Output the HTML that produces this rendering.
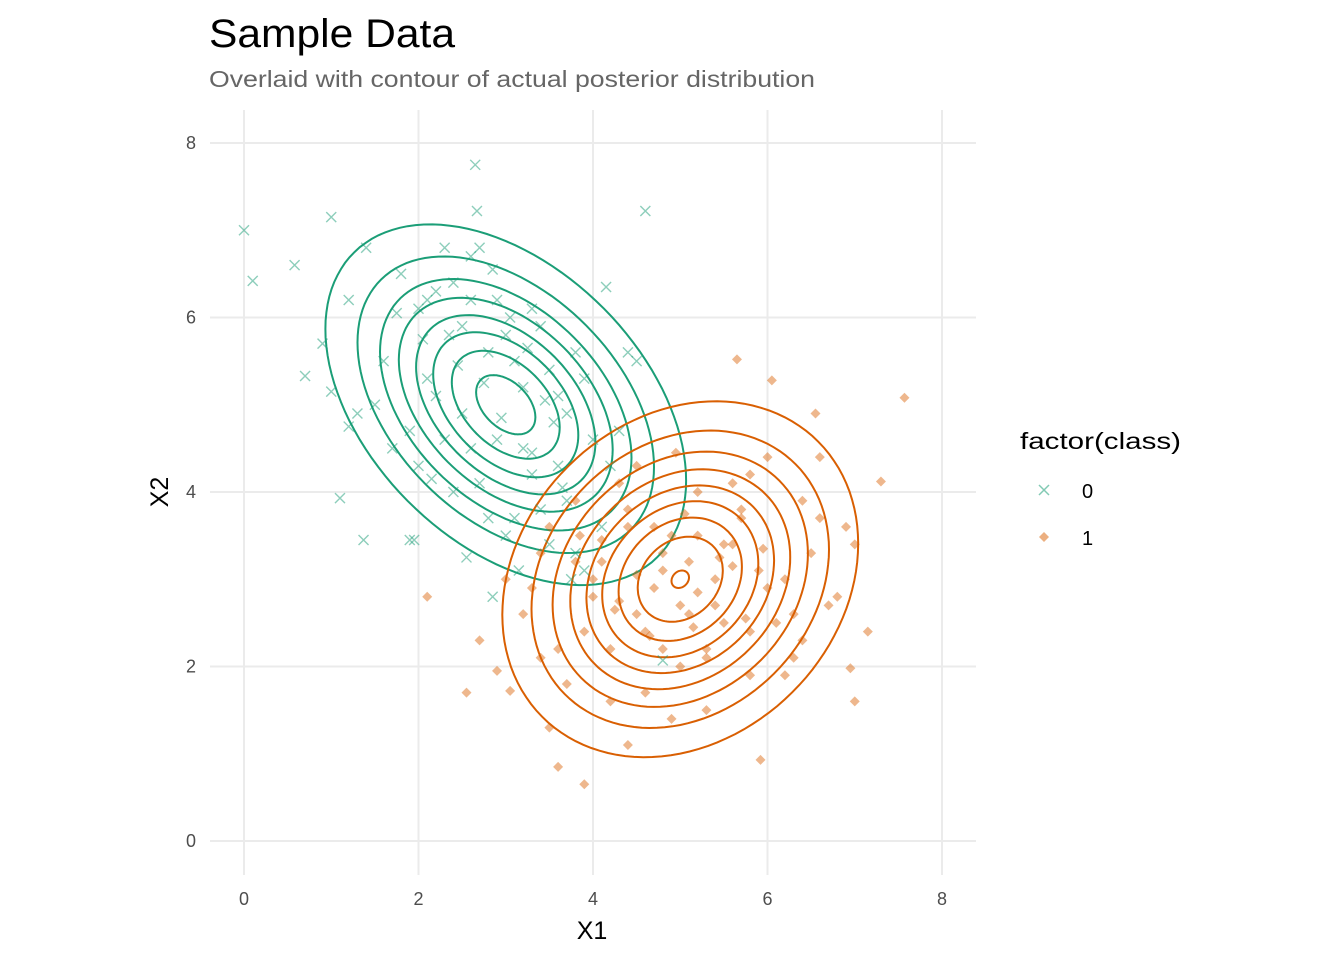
<!DOCTYPE html>
<html><head><meta charset="utf-8"><style>
body{margin:0;background:#fff;}
svg{display:block;font-family:"Liberation Sans",Arial,sans-serif;}
</style></head><body>
<svg id="chart" width="1344" height="960" xmlns="http://www.w3.org/2000/svg">
<text x="209" y="47" font-size="40" textLength="246" lengthAdjust="spacingAndGlyphs" fill="#000">Sample Data</text>
<text x="209" y="87" font-size="23" textLength="606" lengthAdjust="spacingAndGlyphs" fill="#666">Overlaid with contour of actual posterior distribution</text>
<g id="grid"></g>
<g id="contours"></g>
<g id="points"></g>
<g id="ticks"></g>
<text x="592" y="939" font-size="25" text-anchor="middle" fill="#000">X1</text>
<text x="0" y="0" font-size="25" text-anchor="middle" fill="#000" transform="translate(168,492) rotate(-90)">X2</text>
<g>
<text x="1020" y="449" font-size="23" textLength="161" lengthAdjust="spacingAndGlyphs" fill="#000">factor(class)</text>
<g>
<path d="M1039,485 l10,10 M1049,485 l-10,10" stroke="#1b9e77" stroke-opacity="0.55" stroke-width="1.5"/>
<text x="1082" y="498" font-size="20" fill="#000">0</text></g>
<g>
<path d="M1044,532 l5,5 l-5,5 l-5,-5z" fill="#d95f02" fill-opacity="0.5"/>
<text x="1082" y="545" font-size="20" fill="#000">1</text></g>
</g>
</svg>
<script>
const xTicks=[0,2,4,6,8];
const yTicks=[0,2,4,6,8];
const means=[[3,5],[5,3]];
const sds=[[1,1],[1,1]];
const rhos=[-0.42,0.2];
const levels0=[0.118,0.236,0.354,0.472,0.59,0.708,0.826,0.944];
const levels1=[0.125,0.234,0.343,0.452,0.561,0.67,0.779,0.888,0.995];
const g0x=[2.65,2.67,4.6,0,0.1,1,0.58,0.7,0.9,1.1,1.37,1.9,4.8,2.85,4.15,1.2,1.4,1.6,1.8,2.0,2.2,2.3,2.4,2.5,2.6,2.7,2.8,2.9,3.0,3.1,3.2,3.3,3.4,3.5,3.6,3.7,3.8,3.9,4.0,4.2,4.4,1.3,1.7,2.1,2.5,2.9,3.3,3.7,4.1,2.0,2.4,2.8,3.2,3.6,1.5,1.9,2.3,2.7,3.1,3.5,3.9,2.2,2.6,3.0,3.4,3.8,4.3,1.95,2.55,3.15,3.75,2.35,3.05,3.55,4.5,1.0,1.2,2.1,2.6,3.3,2.45,2.75,3.25,2.05,3.65,2.95,2.15,3.45,1.75,2.85];
const g0y=[7.75,7.22,7.22,7,6.42,7.15,6.6,5.33,5.7,3.93,3.45,3.45,2.07,2.8,6.35,6.2,6.8,5.5,6.5,6.1,6.3,6.8,6.4,5.9,6.7,6.8,5.6,6.2,5.8,5.5,5.2,6.1,5.9,5.4,5.1,4.9,5.6,5.3,4.6,4.3,5.6,4.9,4.5,5.3,4.9,4.6,4.2,3.9,3.6,4.3,4.0,3.7,4.5,4.3,5.0,4.7,4.6,4.1,3.7,3.4,3.1,5.1,4.5,3.5,3.8,3.3,4.7,3.45,3.25,3.1,3.0,5.8,6.0,4.8,5.5,5.15,4.75,6.2,6.2,4.45,5.45,5.25,5.65,5.75,4.05,4.85,4.15,5.05,6.05,6.55];
const g1x=[7.57,7.3,2.1,3.9,3.6,5.92,7.15,7,6.95,6.55,6.05,5.65,2.55,2.7,2.9,3.05,3.5,4.4,4.95,3.2,3.4,3.6,3.8,4.0,4.2,4.4,4.6,4.8,5.0,5.2,5.4,5.6,5.8,6.0,6.2,6.4,6.6,6.8,3.3,3.7,4.1,4.5,4.9,5.3,5.7,6.1,6.5,6.9,3.5,3.9,4.3,4.7,5.1,5.5,5.9,6.3,6.7,4.0,4.4,4.8,5.2,5.6,6.0,6.4,4.6,5.0,5.4,5.8,4.2,4.8,5.3,5.7,6.2,3.8,4.5,5.1,5.5,6.6,7.0,3.0,3.4,4.9,5.3,5.8,6.3,4.3,4.7,5.2,5.6,4.1,4.5,5.05,5.45,5.75,4.65,5.15,4.25,5.95,3.85];
const g1y=[5.08,4.12,2.8,0.65,0.85,0.93,2.4,1.6,1.98,4.9,5.28,5.52,1.7,2.3,1.95,1.72,1.3,1.1,4.45,2.6,3.3,2.2,3.9,2.8,1.6,3.6,2.4,3.1,2.0,4.0,2.7,3.4,1.9,4.4,3.0,2.3,3.7,2.8,2.9,1.8,3.2,2.6,3.5,2.2,3.8,2.5,3.3,3.6,3.6,2.4,4.1,2.9,3.2,2.5,3.1,2.1,2.7,3.0,3.8,2.2,3.5,4.1,2.9,3.9,1.7,2.7,3.0,2.4,2.2,3.3,1.5,3.7,1.9,3.2,4.3,2.6,3.4,4.4,3.4,3.0,2.1,1.4,2.1,4.2,2.6,2.75,3.6,2.85,3.15,3.45,3.05,3.75,3.25,2.55,2.35,2.45,2.65,3.35,3.5];

const NS="http://www.w3.org/2000/svg";
const X=v=>244+v*87.25, Y=v=>841-v*87.25;
function mk(tag,attrs,parent){const e=document.createElementNS(NS,tag);for(const k in attrs)e.setAttribute(k,attrs[k]);parent.appendChild(e);return e;}
const grid=document.getElementById('grid'),ticks=document.getElementById('ticks');
xTicks.forEach(t=>{
 const l=mk('line',{x1:X(t),x2:X(t),y1:110,y2:875,stroke:'#ebebeb','stroke-width':2},grid);
 
 
 const tx=mk('text',{x:X(t),y:905,'font-size':18,fill:'#4d4d4d','text-anchor':'middle'},ticks);tx.textContent=t;
 
 
});
yTicks.forEach(t=>{
 const l=mk('line',{x1:210,x2:976,y1:Y(t),y2:Y(t),stroke:'#ebebeb','stroke-width':2},grid);
 
 
 const tx=mk('text',{x:196,y:Y(t)+6,'font-size':18,fill:'#4d4d4d','text-anchor':'end'},ticks);tx.textContent=t;
 
 
});
const cont=document.getElementById('contours');
const colors=['#1b9e77','#d95f02'];
[levels0,levels1].forEach((lv,c)=>{
 const [mx,my]=means[c],[sx,sy]=sds[c],rho=rhos[c];
 lv.forEach(f=>{
  const r=Math.sqrt(-2*Math.log(f));
  let d='';
  for(let i=0;i<=120;i++){
   const a=i/120*2*Math.PI;
   const u=Math.cos(a),v=Math.sin(a);
   const px=mx+r*sx*u, py=my+r*sy*(rho*u+Math.sqrt(1-rho*rho)*v);
   d+=(i?'L':'M')+X(px).toFixed(1)+','+Y(py).toFixed(1);
  }
  const p=mk('path',{d:d+'Z',fill:'none',stroke:colors[c],'stroke-width':2},cont);
  
  
 });
});
const pts=document.getElementById('points');
g0x.forEach((x,i)=>{
 const cx=X(x),cy=Y(g0y[i]);
 const p=mk('path',{d:`M${cx-5},${cy-5}l10,10M${cx+5},${cy-5}l-10,10`,stroke:'#1b9e77','stroke-opacity':0.5,'stroke-width':1.4},pts);
 
 
});
g1x.forEach((x,i)=>{
 const cx=X(x),cy=Y(g1y[i]);
 const p=mk('path',{d:`M${cx},${cy-5}l5,5l-5,5l-5,-5z`,fill:'#d95f02','fill-opacity':0.45},pts);
 
 
});
</script>
</body></html>
